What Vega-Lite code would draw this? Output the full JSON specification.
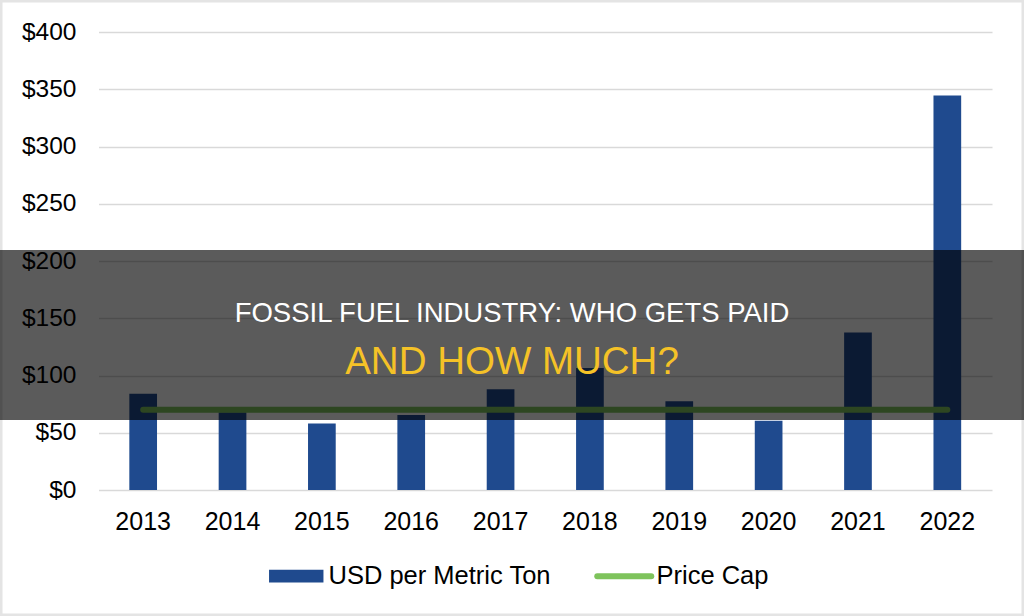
{
  "$schema": "https://vega.github.io/schema/vega-lite/v6.json",
  "width": 1024,
  "height": 616,
  "padding": 0,
  "autosize": {"type": "none"},
  "background": "#ffffff",
  "config": {
    "view": {"stroke": null},
    "font": "Liberation Sans"
  },
  "data": {
    "values": [
      {"year": "2013", "usd": 84, "cap": 70},
      {"year": "2014", "usd": 68, "cap": 70},
      {"year": "2015", "usd": 58, "cap": 70},
      {"year": "2016", "usd": 65.5, "cap": 70},
      {"year": "2017", "usd": 88, "cap": 70},
      {"year": "2018", "usd": 106.5, "cap": 70},
      {"year": "2019", "usd": 77.5, "cap": 70},
      {"year": "2020", "usd": 60.5, "cap": 70},
      {"year": "2021", "usd": 137.5, "cap": 70},
      {"year": "2022", "usd": 344.5, "cap": 70}
    ]
  },
  "layer": [
    {
      "data": {"values": [{}]},
      "mark": {"type": "rect", "fill": null, "stroke": "#e4e4e4", "strokeWidth": 5},
      "encoding": {}
    },
    {
      "mark": {"type": "bar"},
      "encoding": {
        "x": {
          "field": "year",
          "type": "ordinal",
          "scale": {"range": [98.5, 992], "paddingInner": 0.69, "paddingOuter": 0.345},
          "axis": {
            "title": null,
            "orient": "bottom",
            "offset": -126,
            "labelAngle": 0,
            "labelFont": "Liberation Sans",
            "labelFontSize": 25,
            "labelColor": "#000000",
            "labelPadding": 19,
            "ticks": false,
            "domain": false,
            "grid": false
          }
        },
        "y": {
          "field": "usd",
          "type": "quantitative",
          "scale": {"domain": [0, 400], "range": [490, 32], "nice": false},
          "axis": {
            "title": null,
            "orient": "left",
            "offset": -98.5,
            "values": [0, 50, 100, 150, 200, 250, 300, 350, 400],
            "labelExpr": "'$' + datum.value",
            "labelFont": "Liberation Sans",
            "labelFontSize": 24.5,
            "labelColor": "#000000",
            "labelPadding": 22.5,
            "ticks": false,
            "domain": false,
            "grid": true,
            "gridColor": "#d9d9d9",
            "gridWidth": 1.4
          }
        },
        "color": {
          "datum": "USD per Metric Ton",
          "scale": {
            "domain": ["USD per Metric Ton", "Price Cap"],
            "range": ["#1f4a8e", "#7ec35c"]
          },
          "legend": {
            "title": null,
            "orient": "none",
            "legendX": 283.5,
            "legendY": 563,
            "direction": "horizontal",
            "padding": 0,
            "labelFont": "Liberation Sans",
            "labelFontSize": 25.5,
            "labelColor": "#000000",
            "labelLimit": 400,
            "labelOffset": 19.5,
            "columnPadding": 33,
            "symbolSize": 3600,
            "symbolOpacity": 1,
            "encode": {
              "symbols": {
                "update": {
                  "shape": {"signal": "datum.value === 'Price Cap' ? 'M-0.9,0H0.9' : 'M-0.907,-0.212H0.907V0.212H-0.907Z'"},
                  "fill": {"signal": "datum.value === 'Price Cap' ? 'transparent' : '#1f4a8e'"},
                  "stroke": {"signal": "datum.value === 'Price Cap' ? '#7ec35c' : 'transparent'"},
                  "strokeWidth": {"signal": "datum.value === 'Price Cap' ? 6 : 0"},
                  "strokeCap": {"value": "round"}
                }
              }
            }
          }
        }
      }
    },
    {
      "mark": {"type": "line", "strokeWidth": 6, "strokeCap": "round"},
      "encoding": {
        "x": {"field": "year", "type": "ordinal"},
        "y": {"field": "cap", "type": "quantitative"},
        "color": {"datum": "Price Cap"}
      }
    },
    {
      "data": {"values": [{}]},
      "mark": {"type": "rect", "fill": "#000000", "fillOpacity": 0.645, "strokeWidth": 0},
      "encoding": {
        "y": {"datum": 209.6},
        "y2": {"datum": 61.1}
      }
    },
    {
      "data": {"values": [{}]},
      "mark": {
        "type": "text",
        "text": "FOSSIL FUEL INDUSTRY: WHO GETS PAID",
        "font": "Liberation Sans",
        "fontSize": 27.5,
        "color": "#ffffff",
        "align": "center",
        "baseline": "alphabetic"
      },
      "encoding": {"y": {"datum": 146.5}}
    },
    {
      "data": {"values": [{}]},
      "mark": {
        "type": "text",
        "text": "AND HOW MUCH?",
        "font": "Liberation Sans",
        "fontSize": 38.5,
        "color": "#f5c227",
        "align": "center",
        "baseline": "alphabetic"
      },
      "encoding": {"y": {"datum": 101}}
    }
  ]
}
